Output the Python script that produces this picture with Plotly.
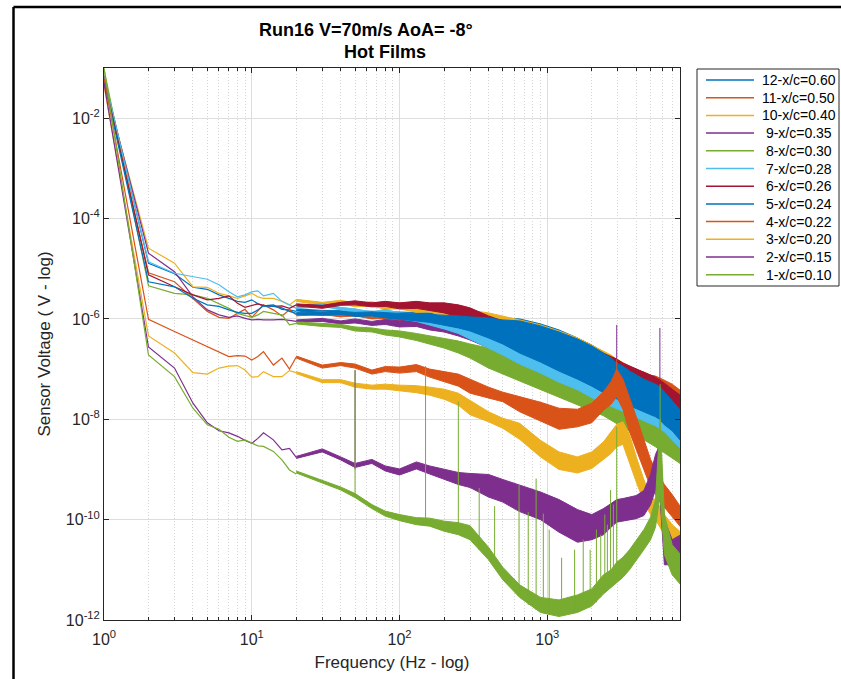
import plotly.graph_objects as go

# Frequencies (Hz) of the low-frequency part of each spectrum, drawn as a plain line
LINE_F = [1, 2, 3, 4, 5, 6, 7, 8, 9, 10, 11, 12, 14, 16, 18, 20]

# Frequencies (Hz) where the upper / lower edges of the noisy band are given
BAND_F = [20, 30, 40, 50, 65, 80, 100, 130, 160, 200,
          250, 300, 400, 500, 650, 900, 1200, 1600, 2000, 2400,
          2700, 2950, 3250, 3600, 4000, 4500, 5000, 5400, 5800, 6200,
          7000, 8000]

# All levels below are log10 of the sensor voltage
S12_LINE = [-1.15, -4.89, -5.10, -5.37, -5.41, -5.52, -5.59, -5.65, -5.67, -5.62, -5.70, -5.74, -5.72, -5.81, -5.82, -5.85]
S12_HI = [-5.80, -5.83, -5.83, -5.84, -5.84, -5.85, -5.86, -5.87, -5.88, -5.88,
          -5.90, -5.92, -5.94, -5.98, -6.00, -6.10, -6.22, -6.38, -6.52, -6.66,
          -6.76, -6.86, -6.92, -7.04, -7.10, -7.20, -7.26, -7.30, -7.36, -7.45,
          -7.61, -7.81]
S12_LO = [-5.84, -5.89, -5.89, -5.92, -5.92, -5.95, -5.98, -6.01, -6.04, -6.08,
          -6.14, -6.20, -6.34, -6.46, -6.64, -6.82, -7.02, -7.18, -7.32, -7.45,
          -7.51, -7.57, -7.63, -7.71, -7.77, -7.83, -7.89, -7.93, -7.99, -8.09,
          -8.21, -8.41]

S11_LINE = [-1.20, -5.08, -5.26, -5.59, -5.85, -5.97, -5.99, -5.89, -5.81, -5.97, -5.85, -5.72, -5.82, -5.94, -5.82, -5.92]
S11_HI = [-5.90, -5.85, -5.90, -5.86, -5.92, -5.89, -5.94, -5.91, -5.97, -5.97,
          -6.02, -6.06, -6.10, -6.16, -6.24, -6.34, -6.44, -6.54, -6.66, -6.76,
          -6.82, -6.88, -6.92, -6.98, -7.02, -7.06, -7.12, -7.14, -7.18, -7.22,
          -7.30, -7.43]
S11_LO = [-5.94, -5.91, -5.96, -5.94, -6.00, -5.99, -6.06, -6.05, -6.13, -6.17,
          -6.26, -6.34, -6.46, -6.56, -6.68, -6.82, -6.96, -7.10, -7.22, -7.32,
          -7.38, -7.45, -7.49, -7.55, -7.59, -7.61, -7.63, -7.65, -7.69, -7.73,
          -7.81, -7.91]

S10_LINE = [-1.30, -4.59, -4.89, -5.36, -5.37, -5.49, -5.54, -5.59, -5.54, -5.49, -5.56, -5.59, -5.59, -5.65, -5.72, -5.62]
S10_HI = [-5.61, -5.67, -5.63, -5.68, -5.66, -5.71, -5.68, -5.73, -5.70, -5.75,
          -5.78, -5.83, -5.88, -5.94, -6.02, -6.12, -6.24, -6.38, -6.52, -6.64,
          -6.72, -6.80, -6.86, -6.94, -7.02, -7.08, -7.14, -7.18, -7.24, -7.32,
          -7.45, -7.61]
S10_LO = [-5.65, -5.73, -5.69, -5.76, -5.74, -5.81, -5.80, -5.87, -5.86, -5.95,
          -6.02, -6.11, -6.24, -6.34, -6.46, -6.60, -6.72, -6.86, -7.00, -7.12,
          -7.20, -7.28, -7.34, -7.41, -7.49, -7.55, -7.61, -7.65, -7.71, -7.79,
          -7.93, -8.09]

S9_LINE = [-1.25, -4.69, -5.06, -5.56, -5.82, -5.92, -5.97, -5.94, -5.99, -6.02, -6.01, -6.02, -6.02, -6.01, -6.03, -6.05]
S9_HI = [-6.02, -5.99, -6.04, -6.00, -6.05, -6.01, -6.04, -6.01, -6.06, -6.06,
         -6.10, -6.14, -6.22, -6.30, -6.40, -6.50, -6.60, -6.70, -6.80, -6.90,
         -6.96, -7.02, -7.06, -7.12, -7.18, -7.24, -7.30, -7.34, -7.40, -7.45,
         -7.57, -7.73]
S9_LO = [-6.06, -6.05, -6.10, -6.08, -6.13, -6.11, -6.16, -6.15, -6.22, -6.26,
         -6.34, -6.42, -6.58, -6.70, -6.84, -6.98, -7.12, -7.26, -7.36, -7.45,
         -7.51, -7.57, -7.61, -7.67, -7.73, -7.79, -7.85, -7.89, -7.95, -8.01,
         -8.13, -8.29]

S8_LINE = [-1.02, -5.34, -5.49, -5.52, -5.59, -5.69, -5.79, -5.89, -5.94, -5.97, -5.92, -5.85, -5.89, -5.92, -6.12, -6.09]
S8_HI = [-6.06, -6.09, -6.11, -6.16, -6.18, -6.22, -6.24, -6.29, -6.34, -6.38,
         -6.44, -6.50, -6.58, -6.66, -6.76, -6.90, -7.06, -7.16, -7.28, -7.38,
         -7.45, -7.53, -7.59, -7.67, -7.75, -7.85, -7.93, -7.99, -8.05, -8.11,
         -8.25, -8.41]
S8_LO = [-6.10, -6.15, -6.17, -6.24, -6.26, -6.32, -6.36, -6.43, -6.50, -6.58,
         -6.68, -6.78, -6.98, -7.10, -7.24, -7.41, -7.57, -7.71, -7.83, -7.93,
         -8.01, -8.09, -8.15, -8.23, -8.31, -8.41, -8.49, -8.55, -8.61, -8.67,
         -8.77, -8.89]

S7_LINE = [-1.18, -4.86, -5.09, -5.16, -5.21, -5.32, -5.46, -5.56, -5.52, -5.46, -5.44, -5.54, -5.49, -5.65, -5.72, -5.79]
S7_HI = [-5.76, -5.69, -5.77, -5.80, -5.86, -5.81, -5.88, -5.91, -5.96, -6.00,
         -6.05, -6.11, -6.18, -6.28, -6.42, -6.56, -6.70, -6.86, -7.02, -7.16,
         -7.26, -7.32, -7.38, -7.43, -7.49, -7.55, -7.61, -7.65, -7.71, -7.77,
         -7.93, -8.15]
S7_LO = [-5.80, -5.75, -5.83, -5.88, -5.94, -5.91, -6.00, -6.05, -6.12, -6.20,
         -6.29, -6.39, -6.58, -6.72, -6.90, -7.08, -7.26, -7.41, -7.57, -7.67,
         -7.73, -7.79, -7.85, -7.91, -7.97, -8.03, -8.09, -8.13, -8.19, -8.25,
         -8.41, -8.59]

S6_LINE = [-1.22, -5.12, -5.36, -5.52, -5.62, -5.59, -5.54, -5.69, -5.77, -5.74, -5.70, -5.73, -5.75, -5.74, -5.79, -5.72]
S6_HI = [-5.70, -5.73, -5.67, -5.64, -5.68, -5.65, -5.68, -5.65, -5.68, -5.68,
         -5.72, -5.78, -5.94, -6.04, -6.18, -6.26, -6.38, -6.48, -6.58, -6.68,
         -6.74, -6.80, -6.88, -6.94, -7.00, -7.06, -7.12, -7.16, -7.22, -7.28,
         -7.40, -7.53]
S6_LO = [-5.74, -5.79, -5.73, -5.72, -5.76, -5.75, -5.80, -5.79, -5.84, -5.88,
         -5.96, -6.06, -6.34, -6.48, -6.66, -6.82, -6.94, -7.08, -7.18, -7.28,
         -7.34, -7.40, -7.45, -7.51, -7.57, -7.61, -7.67, -7.71, -7.77, -7.83,
         -7.95, -8.09]

S5_LINE = [-1.25, -5.26, -5.36, -5.59, -5.72, -5.75, -5.82, -5.87, -5.89, -5.89, -5.82, -5.74, -5.75, -5.78, -5.85, -5.89]
S5_HI = [-5.87, -5.87, -5.85, -5.87, -5.86, -5.88, -5.89, -5.90, -5.91, -5.92,
         -5.94, -5.96, -5.98, -6.02, -6.04, -6.14, -6.26, -6.40, -6.54, -6.68,
         -6.78, -6.88, -6.94, -7.04, -7.12, -7.20, -7.26, -7.30, -7.36, -7.45,
         -7.63, -7.83]
S5_LO = [-5.91, -5.93, -5.91, -5.95, -5.94, -5.98, -6.01, -6.04, -6.07, -6.12,
         -6.18, -6.24, -6.38, -6.50, -6.68, -6.86, -7.04, -7.20, -7.34, -7.47,
         -7.53, -7.59, -7.65, -7.73, -7.79, -7.85, -7.91, -7.95, -8.01, -8.11,
         -8.23, -8.43]

S4_LINE = [-1.20, -6.01, -6.25, -6.42, -6.55, -6.65, -6.75, -6.73, -6.74, -6.82, -6.75, -6.65, -6.92, -6.78, -7.00, -6.76]
S4_HI = [-6.74, -6.92, -6.87, -6.90, -7.02, -6.95, -6.96, -6.91, -7.00, -7.05,
         -7.10, -7.20, -7.36, -7.46, -7.55, -7.66, -7.78, -7.80, -7.68, -7.45,
         -7.25, -7.00, -7.20, -7.55, -7.95, -8.40, -8.80, -9.00, -9.15, -9.30,
         -9.50, -9.75]
S4_LO = [-6.78, -6.98, -6.93, -6.98, -7.10, -7.05, -7.08, -7.05, -7.16, -7.25,
         -7.34, -7.48, -7.57, -7.65, -7.85, -8.04, -8.20, -8.15, -8.07, -7.82,
         -7.70, -7.55, -7.80, -8.25, -8.60, -9.00, -9.35, -9.50, -9.65, -9.75,
         -9.95, -10.15]

S3_LINE = [-1.35, -6.34, -6.68, -7.07, -7.10, -6.98, -6.94, -6.93, -7.02, -7.16, -7.15, -7.05, -7.15, -7.15, -7.03, -7.07]
S3_HI = [-7.05, -7.21, -7.21, -7.28, -7.32, -7.30, -7.32, -7.33, -7.36, -7.40,
         -7.48, -7.63, -7.85, -7.98, -8.08, -8.42, -8.65, -8.75, -8.65, -8.45,
         -8.25, -8.10, -8.05, -8.30, -8.75, -9.20, -9.55, -9.60, -9.75, -9.90,
         -10.10, -10.25]
S3_LO = [-7.09, -7.27, -7.27, -7.36, -7.40, -7.40, -7.44, -7.47, -7.52, -7.60,
         -7.72, -7.91, -8.05, -8.18, -8.40, -8.75, -9.00, -9.07, -8.98, -8.80,
         -8.68, -8.55, -8.50, -8.85, -9.25, -9.65, -9.90, -10.00, -10.15, -10.30,
         -10.45, -10.55]

S2_LINE = [-1.30, -6.56, -6.98, -7.68, -8.07, -8.23, -8.27, -8.34, -8.42, -8.48, -8.38, -8.27, -8.41, -8.61, -8.58, -8.76]
S2_HI = [-8.74, -8.59, -8.75, -8.88, -8.80, -8.93, -8.99, -8.85, -8.93, -9.00,
         -9.06, -9.08, -9.10, -9.20, -9.31, -9.45, -9.60, -9.80, -9.90, -9.78,
         -9.68, -9.60, -9.58, -9.55, -9.52, -9.42, -9.10, -8.70, -8.50, -10.00,
         -10.40, -10.30]
S2_LO = [-8.78, -8.65, -8.81, -8.96, -8.88, -9.03, -9.11, -8.99, -9.09, -9.20,
         -9.30, -9.36, -9.55, -9.65, -9.84, -10.00, -10.25, -10.45, -10.40, -10.30,
         -10.15, -10.05, -10.02, -10.00, -9.98, -9.92, -9.70, -9.40, -9.60, -10.90,
         -10.90, -10.80]

S1_LINE = [-1.00, -6.72, -7.15, -7.78, -8.11, -8.20, -8.36, -8.44, -8.41, -8.48, -8.53, -8.54, -8.64, -8.81, -9.01, -9.09]
S1_HI = [-9.03, -9.21, -9.35, -9.48, -9.70, -9.83, -9.90, -9.96, -9.97, -10.03,
         -10.06, -10.12, -10.55, -10.95, -11.30, -11.55, -11.60, -11.50, -11.38, -11.10,
         -11.00, -10.85, -10.75, -10.60, -10.42, -10.20, -9.95, -9.60, -8.00, -9.90,
         -10.50, -10.70]
S1_LO = [-9.07, -9.27, -9.41, -9.56, -9.78, -9.93, -10.02, -10.10, -10.13, -10.23,
         -10.30, -10.40, -10.80, -11.20, -11.55, -11.85, -11.93, -11.85, -11.72, -11.48,
         -11.35, -11.25, -11.15, -11.00, -10.82, -10.60, -10.40, -10.15, -9.50, -10.70,
         -11.10, -11.30]

# Narrow spectral spikes: frequency, level at the foot, level at the tip (log10)
S1_SPK_F = [50, 150, 250, 346, 440, 644, 743, 840, 940, 1030, 1250, 1530, 1750, 1950,
            2150, 2300, 2450, 2550, 2680, 2800, 2950, 5800]
S1_SPK_BASE = [-9.56, -10.09, -10.22, -10.60, -10.85, -11.50, -11.70, -11.80, -11.85, -11.90,
               -11.90, -11.85, -11.80, -11.75, -11.65, -11.55, -11.45, -11.40, -11.35, -11.30,
               -11.25, -9.50]
S1_SPK_TOP = [-7.02, -6.94, -7.65, -9.37, -9.73, -9.31, -9.85, -9.18, -9.88, -10.20,
              -10.76, -10.60, -10.40, -10.60, -10.20, -10.30, -9.90, -10.10, -9.41, -9.70,
              -8.15, -7.30]
S2_SPK_F = [50]
S2_SPK_BASE = [-9.00]
S2_SPK_TOP = [-7.02]
S4_SPK_F = [2950]
S4_SPK_BASE = [-7.40]
S4_SPK_TOP = [-6.80]
S9_SPK_F = [2950, 5780]
S9_SPK_BASE = [-7.40, -7.60]
S9_SPK_TOP = [-6.12, -6.18]

LABELS = ["12-x/c=0.60", "11-x/c=0.50", "10-x/c=0.40", "\u00a09-x/c=0.35",
          "\u00a08-x/c=0.30", "\u00a07-x/c=0.28", "\u00a06-x/c=0.26", "\u00a05-x/c=0.24",
          "\u00a04-x/c=0.22", "\u00a03-x/c=0.20", "\u00a02-x/c=0.15", "\u00a01-x/c=0.10"]

BLUE, ORANGE, YELLOW = "#0072BD", "#D95319", "#EDB120"
PURPLE, GREEN, CYAN, DARKRED = "#7E2F8E", "#77AC30", "#4DBEEE", "#A2142F"
COLORS = [BLUE, ORANGE, YELLOW, PURPLE, GREEN, CYAN, DARKRED,
          BLUE, ORANGE, YELLOW, PURPLE, GREEN]

SERIES = [
    (S12_LINE, S12_HI, S12_LO, [], [], []),
    (S11_LINE, S11_HI, S11_LO, [], [], []),
    (S10_LINE, S10_HI, S10_LO, [], [], []),
    (S9_LINE, S9_HI, S9_LO, S9_SPK_F, S9_SPK_BASE, S9_SPK_TOP),
    (S8_LINE, S8_HI, S8_LO, [], [], []),
    (S7_LINE, S7_HI, S7_LO, [], [], []),
    (S6_LINE, S6_HI, S6_LO, [], [], []),
    (S5_LINE, S5_HI, S5_LO, [], [], []),
    (S4_LINE, S4_HI, S4_LO, S4_SPK_F, S4_SPK_BASE, S4_SPK_TOP),
    (S3_LINE, S3_HI, S3_LO, [], [], []),
    (S2_LINE, S2_HI, S2_LO, S2_SPK_F, S2_SPK_BASE, S2_SPK_TOP),
    (S1_LINE, S1_HI, S1_LO, S1_SPK_F, S1_SPK_BASE, S1_SPK_TOP),
]

X_MAJOR = [1, 10, 100, 1000]
X_MAJOR_TEXT = ["10<sup>0</sup>", "10<sup>1</sup>", "10<sup>2</sup>", "10<sup>3</sup>"]
X_MINOR = [2, 3, 4, 5, 6, 7, 8, 9, 20, 30, 40, 50, 60, 70, 80, 90,
           200, 300, 400, 500, 600, 700, 800, 900, 2000, 3000, 4000, 5000, 6000, 7000]
Y_MAJOR = [1e-12, 1e-10, 1e-8, 1e-6, 1e-4, 1e-2]
Y_MAJOR_TEXT = ["10<sup>-12</sup>", "10<sup>-10</sup>", "10<sup>-8</sup>",
                "10<sup>-6</sup>", "10<sup>-4</sup>", "10<sup>-2</sup>"]

# Page geometry (pixels): plot area and margins
W, H = 841, 679
L, R, T, B = 104, 161, 68, 59
PW, PH = W - L - R, H - T - B


def px_x(px):
    return (px - L) / PW


def px_y(py):
    return (H - B - py) / PH


def volts(levels):
    return [10.0 ** v for v in levels]


fig = go.Figure()
for label, color, (line, hi, lo, sf, sb, st) in zip(LABELS, COLORS, SERIES):
    fig.add_trace(go.Scatter(
        x=LINE_F, y=volts(line), mode="lines", name=label,
        line=dict(color=color, width=1.2), hoverinfo="skip"))
    fig.add_trace(go.Scatter(
        x=BAND_F + BAND_F[::-1], y=volts(hi) + volts(lo)[::-1],
        mode="lines", fill="toself", fillcolor=color, name=label,
        line=dict(color=color, width=1), hoverinfo="skip"))
    if sf:
        xs, ys = [], []
        for f, b, t in zip(sf, sb, st):
            xs += [f, f, None]
            ys += [10.0 ** b, 10.0 ** t, None]
        fig.add_trace(go.Scatter(
            x=xs, y=ys, mode="lines", name=label,
            line=dict(color=color, width=1), hoverinfo="skip"))

AX = "#262626"
FONT = "Liberation Sans, Arial, Helvetica, sans-serif"

# Legend box drawn as shapes + text on the right of the axes
legend_shapes = [dict(type="rect", xref="paper", yref="paper",
                      x0=px_x(697), x1=px_x(839), y0=px_y(286), y1=px_y(69),
                      line=dict(color=AX, width=1), fillcolor="white", layer="above")]
legend_text = []
for i, (label, color) in enumerate(zip(LABELS, COLORS)):
    yc = px_y(80 + 17.7 * i)
    legend_shapes.append(dict(type="line", xref="paper", yref="paper",
                              x0=px_x(706), x1=px_x(754), y0=yc, y1=yc,
                              line=dict(color=color, width=1.5)))
    legend_text.append(dict(text=label, xref="paper", yref="paper",
                            x=px_x(759.5), y=yc, xanchor="left", yanchor="middle",
                            showarrow=False,
                            font=dict(family=FONT, size=14, color="black")))

frame = [
    dict(type="line", xref="paper", yref="paper", x0=px_x(13.5), x1=px_x(W),
         y0=px_y(7), y1=px_y(7), line=dict(color="black", width=2.5)),
    dict(type="line", xref="paper", yref="paper", x0=px_x(13.5), x1=px_x(13.5),
         y0=px_y(7), y1=px_y(H + 2), line=dict(color="black", width=2.5)),
]

titles = [
    dict(text="<b>Run16 V=70m/s AoA= -8°</b>", xref="paper", yref="paper",
         x=px_x(366), y=px_y(30), xanchor="center", yanchor="middle", showarrow=False,
         font=dict(family=FONT, size=18, color="black")),
    dict(text="<b>Hot Films</b>", xref="paper", yref="paper",
         x=px_x(385), y=px_y(52), xanchor="center", yanchor="middle", showarrow=False,
         font=dict(family=FONT, size=18, color="black")),
]

fig.update_layout(
    width=W, height=H,
    margin=dict(l=L, r=R, t=T, b=B),
    paper_bgcolor="white", plot_bgcolor="white",
    font=dict(family=FONT, size=16, color=AX),
    showlegend=False,
    xaxis=dict(
        type="log", range=[0, 3.898],
        tickmode="array", tickvals=X_MAJOR, ticktext=X_MAJOR_TEXT,
        ticks="inside", ticklen=5, tickcolor=AX, tickwidth=1,
        ticklabelstandoff=5,
        showline=True, linecolor=AX, linewidth=1, mirror="ticks",
        showgrid=True, gridcolor="#dddddd", gridwidth=1, zeroline=False,
        tickfont=dict(size=16, color=AX),
        minor=dict(tickmode="array", tickvals=X_MINOR, ticks="inside",
                   ticklen=3, tickcolor=AX, showgrid=True,
                   gridcolor="#d6d6d6", griddash="1px,2px", gridwidth=1),
        title=dict(text="Frequency (Hz - log)", font=dict(size=17, color=AX),
                   standoff=8),
    ),
    yaxis=dict(
        type="log", range=[-12, -1],
        tickmode="array", tickvals=Y_MAJOR, ticktext=Y_MAJOR_TEXT,
        ticks="inside", ticklen=5, tickcolor=AX, tickwidth=1,
        showline=True, linecolor=AX, linewidth=1, mirror="ticks",
        showgrid=True, gridcolor="#dddddd", gridwidth=1, zeroline=False,
        tickfont=dict(size=16, color=AX),
        title=dict(text="Sensor Voltage ( V - log)", font=dict(size=17, color=AX),
                   standoff=10),
    ),
    annotations=titles + legend_text,
    shapes=frame + legend_shapes,
)

fig.write_html("out.html")
